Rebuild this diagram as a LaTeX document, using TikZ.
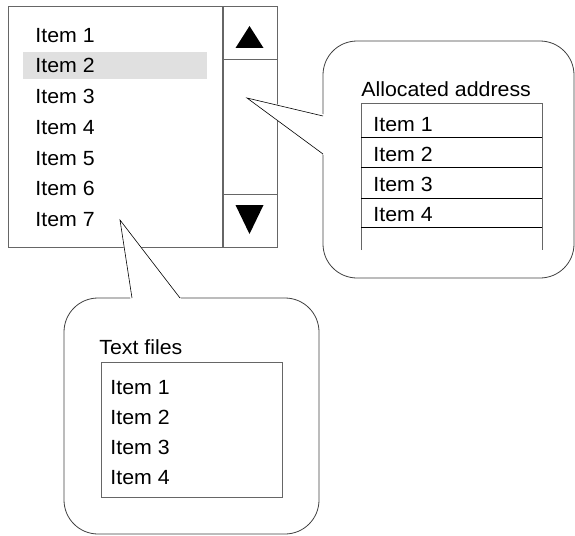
\documentclass[tikz,border=0pt]{standalone}
\usepackage{fontspec}
\setmainfont[FakeStretch=1.04]{Liberation Sans}
\usetikzlibrary{positioning,calc}
\tikzset{
  every picture/.style={line width=0.8pt, x=1pt, y=-1pt},
  wframe/.style={draw=black!60},
  wsep/.style={draw=black},
  wbubble/.style={draw=black!75, rounded corners=34pt},
  wtip/.style={draw=black, line width=0.6pt},
  witem/.style={anchor=base west, inner sep=0pt, font=\fontsize{20.5}{24}\selectfont},
  wsel/.style={fill=black!12},
  warrow/.style={fill=black},
}

\begin{document}
\begin{tikzpicture}
  \useasboundingbox (0,0) rectangle (575,535);
  % list box with scroll bar
  \node[wframe, anchor=north west, minimum width=214pt, minimum height=241pt,
        inner sep=0pt] (list) at (8,6) {};
  \node[wframe, anchor=north west, minimum width=54pt, minimum height=241pt,
        inner sep=0pt] (bar) at (list.north east) {};
  \coordinate (upbot) at (222,59);
  \coordinate (dntop) at (222,194);
  \draw[wframe] (upbot) -- (upbot -| bar.east);
  \draw[wframe] (dntop) -- (dntop -| bar.east);
  \fill[warrow] (249.5,26) -- (263.5,48) -- (235.5,48) -- cycle;
  \fill[warrow] (235.5,205) -- (263.5,205) -- (249.5,234) -- cycle;
  \fill[wsel] (23,52) rectangle (207,79);
  \foreach \i in {1,...,7}
    \node[witem] (li\i) at (35,{42.3+30.7*(\i-1)}) {Item \i};

  % callout: allocated address
  \coordinate (tipA) at (247,98);
  \draw[wbubble] (323,41) rectangle (574,278);
  \fill[white] (324.5,114.5) -- (tipA) -- (324.5,155.5) -- cycle;
  \draw[wtip] (323,116) -- (tipA) -- (323,154);
  \node[witem] (addr) at (361,96.7) {Allocated address};
  \draw[wframe] (361,250) -- (361,103) -- (542,103) -- (542,250);
  \foreach \y in {137,167,198,227}
    \draw[wsep] (361,\y) -- (542,\y);
  \foreach \i in {1,...,4}
    \node[witem] (ai\i) at (373,{131+30*(\i-1)}) {Item \i};

  % callout: text files
  \coordinate (tipT) at (120,220);
  \draw[wbubble] (64,298) rectangle (319,534);
  \fill[white] (130.5,299.5) -- (tipT) -- (181.5,299.5) -- cycle;
  \draw[wtip] (132,298) -- (tipT) -- (180,298);
  \node[witem] (tfiles) at (99,354) {Text files};
  \node[wframe, anchor=north west, minimum width=181pt, minimum height=135pt,
        inner sep=0pt] (tbox) at (101,362) {};
  \foreach \i in {1,...,4}
    \node[witem] (ti\i) at (110,{394+30.3*(\i-1)}) {Item \i};
\end{tikzpicture}
\end{document}
